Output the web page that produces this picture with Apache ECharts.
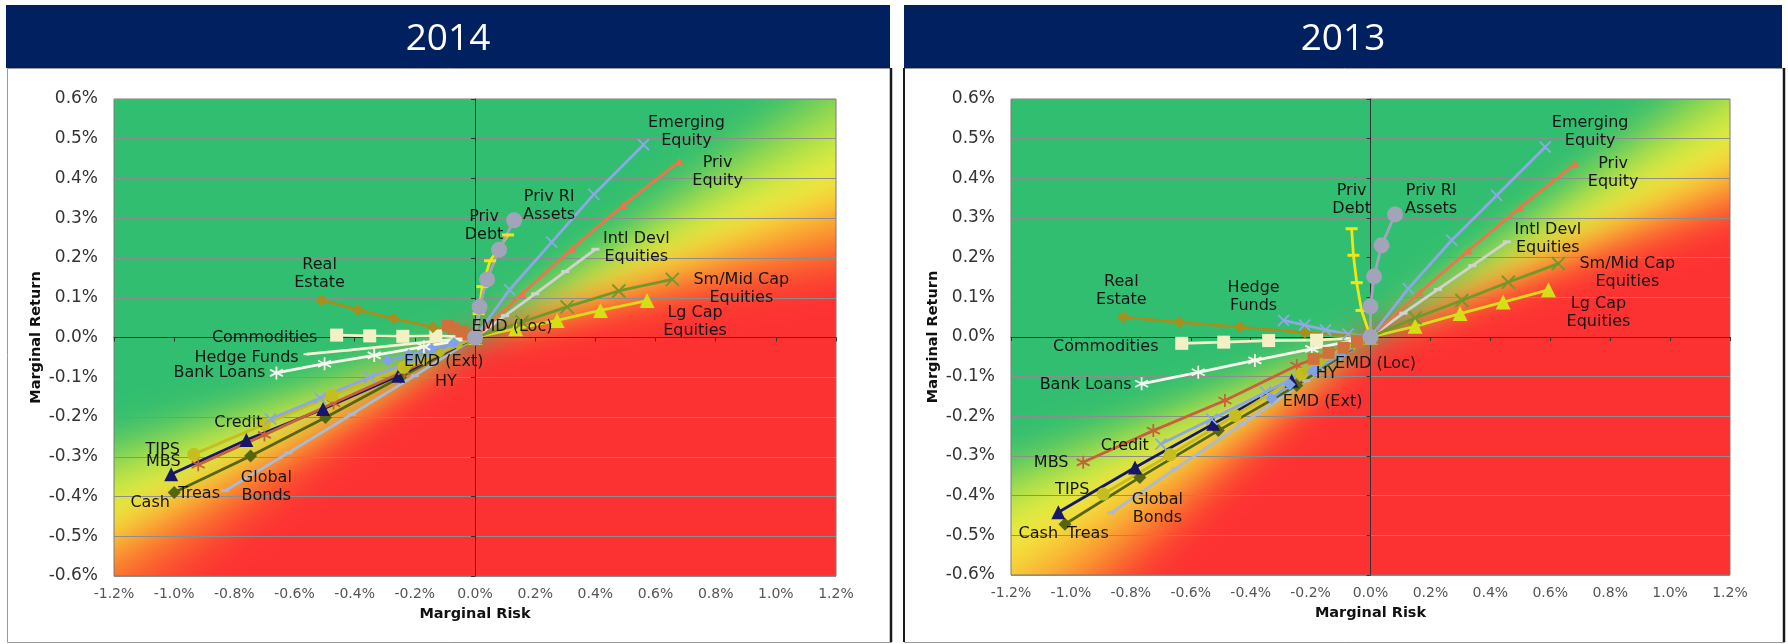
<!DOCTYPE html>
<html>
<head>
<meta charset="utf-8">
<script src="https://cdn.jsdelivr.net/npm/echarts@6/dist/echarts.min.js"></script>
<style>
  html, body { margin: 0; padding: 0; background: #ffffff; }
  #main { width: 1788px; height: 644px; }
</style>
</head>
<body>
<div id="main"></div>
<script>
// ---- axis ranges: [min, max, step] in percent ----
const riskRange = [-1.2, 1.2, 0.2];
const returnRange = [-0.6, 0.6, 0.1];
const panelYears = ['2014', '2013'];

// ---- 2014: [marginal risk %, marginal return %], from the end of each path back to the origin ----
const realEstate2014   = [[-0.51, 0.094], [-0.39, 0.070], [-0.27, 0.047], [-0.14, 0.026], [0, 0]];
const commodities2014  = [[-0.46, 0.006], [-0.35, 0.004], [-0.24, 0.003], [-0.13, 0.004], [0, 0]];
const hedgeFunds2014   = [[-0.56, -0.042], [-0.42, -0.032], [-0.28, -0.021], [-0.14, -0.010], [0, 0]];
const bankLoans2014    = [[-0.66, -0.089], [-0.50, -0.066], [-0.335, -0.045], [-0.17, -0.023], [0, 0]];
const emdExt2014       = [[-0.29, -0.058], [-0.22, -0.044], [-0.145, -0.029], [-0.07, -0.014], [0, 0]];
const emdLoc2014       = [[-0.09, 0.030], [-0.07, 0.023], [-0.045, 0.015], [-0.022, 0.007], [0, 0]];
const hy2014           = [[-0.23, -0.078], [-0.17, -0.058], [-0.115, -0.039], [-0.057, -0.019], [0, 0]];
const credit2014       = [[-0.68, -0.205], [-0.515, -0.152], [-0.35, -0.100], [-0.18, -0.052], [0, 0]];
const tips2014         = [[-0.935, -0.294], [-0.70, -0.218], [-0.475, -0.146], [-0.237, -0.075], [0, 0]];
const mbs2014          = [[-0.92, -0.320], [-0.70, -0.245], [-0.47, -0.165], [-0.235, -0.085], [0, 0]];
const cash2014         = [[-1.01, -0.344], [-0.76, -0.258], [-0.505, -0.180], [-0.255, -0.096], [0, 0]];
const treas2014        = [[-1.00, -0.390], [-0.746, -0.298], [-0.497, -0.201], [-0.248, -0.100], [0, 0]];
const globalBonds2014  = [[-0.83, -0.385], [-0.62, -0.290], [-0.41, -0.193], [-0.20, -0.096], [0, 0]];
const privDebt2014     = [[0.11, 0.258], [0.05, 0.193], [0.024, 0.128], [0.012, 0.060], [0, 0]];
const privRl2014       = [[0.13, 0.295], [0.08, 0.221], [0.04, 0.146], [0.015, 0.077], [0, 0]];
const emerging2014     = [[0.56, 0.485], [0.395, 0.360], [0.255, 0.240], [0.115, 0.120], [0, 0]];
const privEquity2014   = [[0.68, 0.443], [0.493, 0.333], [0.323, 0.224], [0.157, 0.110], [0, 0]];
const intlDevl2014     = [[0.40, 0.222], [0.30, 0.166], [0.20, 0.110], [0.10, 0.055], [0, 0]];
const smMidCap2014     = [[0.656, 0.146], [0.478, 0.117], [0.306, 0.077], [0.157, 0.039], [0, 0]];
const lgCap2014        = [[0.572, 0.093], [0.417, 0.068], [0.273, 0.043], [0.135, 0.022], [0, 0]];

// ---- 2013 ----
const realEstate2013   = [[-0.825, 0.050], [-0.636, 0.037], [-0.436, 0.025], [-0.219, 0.011], [0, 0]];
const commodities2013  = [[-0.63, -0.016], [-0.49, -0.013], [-0.34, -0.009], [-0.18, -0.008], [0, 0]];
const hedgeFunds2013   = [[-0.29, 0.042], [-0.22, 0.030], [-0.15, 0.018], [-0.075, 0.007], [0, 0]];
const bankLoans2013    = [[-0.764, -0.118], [-0.575, -0.089], [-0.386, -0.059], [-0.196, -0.030], [0, 0]];
const emdExt2013       = [[-0.33, -0.155], [-0.27, -0.120], [-0.19, -0.085], [-0.10, -0.045], [0, 0]];
const emdLoc2013       = [[-0.19, -0.055], [-0.14, -0.040], [-0.09, -0.027], [-0.045, -0.013], [0, 0]];
const hy2013           = [[-0.22, -0.085], [-0.165, -0.064], [-0.11, -0.042], [-0.055, -0.021], [0, 0]];
const credit2013       = [[-0.70, -0.270], [-0.53, -0.207], [-0.35, -0.139], [-0.175, -0.070], [0, 0]];
const tips2013         = [[-0.892, -0.396], [-0.669, -0.297], [-0.452, -0.198], [-0.23, -0.093], [0, 0]];
const mbs2013          = [[-0.959, -0.316], [-0.725, -0.236], [-0.486, -0.160], [-0.246, -0.072], [0, 0]];
const cash2013         = [[-1.042, -0.442], [-0.786, -0.329], [-0.525, -0.219], [-0.263, -0.110], [0, 0]];
const treas2013        = [[-1.02, -0.472], [-0.77, -0.354], [-0.508, -0.236], [-0.246, -0.122], [0, 0]];
const globalBonds2013  = [[-0.865, -0.443], [-0.65, -0.332], [-0.43, -0.220], [-0.215, -0.110], [0, 0]];
const privDebt2013     = [[-0.063, 0.273], [-0.057, 0.206], [-0.046, 0.137], [-0.030, 0.067], [0, 0]];
const privRl2013       = [[0.082, 0.309], [0.037, 0.231], [0.012, 0.153], [0.0, 0.077], [0, 0]];
const emerging2013     = [[0.583, 0.479], [0.421, 0.357], [0.271, 0.244], [0.126, 0.122], [0, 0]];
const privEquity2013   = [[0.683, 0.437], [0.499, 0.326], [0.327, 0.218], [0.165, 0.113], [0, 0]];
const intlDevl2013     = [[0.455, 0.240], [0.34, 0.180], [0.225, 0.120], [0.11, 0.060], [0, 0]];
const smMidCap2013     = [[0.627, 0.185], [0.46, 0.138], [0.305, 0.092], [0.149, 0.048], [0, 0]];
const lgCap2013        = [[0.594, 0.119], [0.443, 0.088], [0.299, 0.059], [0.149, 0.027], [0, 0]];

// asset class -> [2014 path, 2013 path]; drawing order follows this list
const assetClasses = [
  ['Global Bonds', globalBonds2014, globalBonds2013],
  ['Treas', treas2014, treas2013],
  ['Cash', cash2014, cash2013],
  ['MBS', mbs2014, mbs2013],
  ['TIPS', tips2014, tips2013],
  ['Credit', credit2014, credit2013],
  ['HY', hy2014, hy2013],
  ['EMD (Ext)', emdExt2014, emdExt2013],
  ['Bank Loans', bankLoans2014, bankLoans2013],
  ['Hedge Funds', hedgeFunds2014, hedgeFunds2013],
  ['Commodities', commodities2014, commodities2013],
  ['Real Estate', realEstate2014, realEstate2013],
  ['EMD (Loc)', emdLoc2014, emdLoc2013],
  ['Intl Devl Equities', intlDevl2014, intlDevl2013],
  ['Lg Cap Equities', lgCap2014, lgCap2013],
  ['Sm/Mid Cap Equities', smMidCap2014, smMidCap2013],
  ['Priv Equity', privEquity2014, privEquity2013],
  ['Emerging Equity', emerging2014, emerging2013],
  ['Priv Debt', privDebt2014, privDebt2013],
  ['Priv Rl Assets', privRl2014, privRl2013]
];

// ---- marker shapes ----
const ASTERISK = 'path://M5,0L5,10M0.7,2.5L9.3,7.5M9.3,2.5L0.7,7.5';
const XMARK = 'path://M0,0L10,10M10,0L0,10';

const assetStyle = {
  'Real Estate':         { color: '#A88E1C', symbol: 'diamond', size: 12 },
  'Commodities':         { color: '#F2F0C4', symbol: 'rect', size: 13 },
  'Hedge Funds':         { color: '#8EAAE4', symbol: XMARK, size: 11, stroke: true },
  'Bank Loans':          { color: '#F7F7EE', symbol: ASTERISK, size: 13, stroke: true },
  'EMD (Ext)':           { color: '#7FA3E6', symbol: 'diamond', size: 12 },
  'EMD (Loc)':           { color: '#D2703C', symbol: 'rect', size: 12 },
  'HY':                  { color: '#B9BB22', symbol: 'diamond', size: 10 },
  'Credit':              { color: '#8BA8E4', symbol: XMARK, size: 11, stroke: true },
  'TIPS':                { color: '#C6BE1E', symbol: 'circle', size: 13 },
  'MBS':                 { color: '#C8613A', symbol: ASTERISK, size: 13, stroke: true },
  'Cash':                { color: '#17176A', symbol: 'triangle', size: 14 },
  'Treas':               { color: '#56660E', symbol: 'diamond', size: 13 },
  'Global Bonds':        { color: '#A8BAD4', symbol: 'rect', size: [8, 3] },
  'Priv Debt':           { color: '#F0E614', symbol: 'rect', size: [12, 3] },
  'Priv Rl Assets':      { color: '#A3A3BA', symbol: 'circle', size: 16 },
  'Emerging Equity':     { color: '#8CA8E6', symbol: XMARK, size: 11, stroke: true },
  'Priv Equity':         { color: '#EF7449', symbol: 'triangle', size: 8 },
  'Intl Devl Equities':  { color: '#D2D2D2', symbol: 'rect', size: [8, 3] },
  'Sm/Mid Cap Equities': { color: '#6F9A2A', symbol: XMARK, size: 13, stroke: true },
  'Lg Cap Equities':     { color: '#D6DE18', symbol: 'triangle', size: 15 }
};
const styleByYear = [
  { 'Hedge Funds': { color: '#F1F2D6', symbol: 'rect', size: [6, 2], stroke: false } },
  {}
];

// ---- end-point label text and placement (offset from the end point, px) ----
const endLabels = [
  {
    'Emerging Equity': ['Emerging\nEquity', 43, -13],
    'Priv Equity': ['Priv\nEquity', 38, 10],
    'Priv Rl Assets': ['Priv Rl\nAssets', 35, -14],
    'Priv Debt': ['Priv\nDebt', -24, -9],
    'Intl Devl Equities': ['Intl Devl\nEquities', 41, -1],
    'Sm/Mid Cap Equities': ['Sm/Mid Cap\nEquities', 69, 9],
    'Lg Cap Equities': ['Lg Cap\nEquities', 48, 21],
    'EMD (Loc)': ['EMD (Loc)', 64, 1],
    'Real Estate': ['Real\nEstate', -2, -26],
    'Commodities': ['Commodities', -72, 3],
    'Hedge Funds': ['Hedge Funds', -60, 4],
    'Bank Loans': ['Bank Loans', -57, 0],
    'EMD (Ext)': ['EMD (Ext)', 56, 1],
    'HY': ['HY', 40, 13],
    'Credit': ['Credit', -32, 4],
    'TIPS': ['TIPS', -31, -5],
    'MBS': ['MBS', -35, -3],
    'Cash': ['Cash', -21, 29],
    'Treas': ['Treas', 25, 1],
    'Global Bonds': ['Global\nBonds', 41, -4]
  },
  {
    'Emerging Equity': ['Emerging\nEquity', 45, -15],
    'Priv Equity': ['Priv\nEquity', 38, 9],
    'Priv Rl Assets': ['Priv Rl\nAssets', 36, -15],
    'Priv Debt': ['Priv\nDebt', 0, -29],
    'Intl Devl Equities': ['Intl Devl\nEquities', 41, -3],
    'Sm/Mid Cap Equities': ['Sm/Mid Cap\nEquities', 69, 9],
    'Lg Cap Equities': ['Lg Cap\nEquities', 50, 23],
    'EMD (Loc)': ['EMD (Loc)', 62, 5],
    'Real Estate': ['Real\nEstate', -2, -26],
    'Hedge Funds': ['Hedge\nFunds', -30, -23],
    'Commodities': ['Commodities', -76, 3],
    'Bank Loans': ['Bank Loans', -56, 1],
    'HY': ['HY', 22, 3],
    'EMD (Ext)': ['EMD (Ext)', 51, 3],
    'Credit': ['Credit', -36, 2],
    'MBS': ['MBS', -32, 0],
    'TIPS': ['TIPS', -31, -4],
    'Global Bonds': ['Global\nBonds', 46, -4],
    'Cash': ['Cash', -20, 22],
    'Treas': ['Treas', 23, 10]
  }
];

// ---- panel layout ----
const gridBoxes = [
  { left: 114, top: 99, width: 722, height: 477 },
  { left: 1011, top: 99, width: 719, height: 476 }
];
const titleBands = [
  { x: 6, y: 5, w: 884, h: 63 },
  { x: 904, y: 5, w: 878, h: 63 }
];
const frames = [
  { x: 7, y: 68, w: 884, h: 574 },
  { x: 904, y: 68, w: 880, h: 574 }
];

// colour field behind each plot, by angle (degrees, counter-clockwise from +risk) around the origin
const G = [50, 190, 112], YG = [168, 222, 72], Y = [244, 242, 62], O = [250, 168, 50], OR = [250, 104, 46], R = [252, 50, 50];
const fieldStops = [
  [[-180, G], [-166, G], [-160, YG], [-154, Y], [-150, O], [-146, OR], [-139, R], [8, R], [13, OR], [18, O], [24, Y], [31, YG], [39, G], [180, G]],
  [[-180, G], [-163, G], [-157, YG], [-151, Y], [-143, O], [-138, OR], [-133, R], [17, R], [20, OR], [23, O], [28, Y], [34, YG], [40, G], [180, G]]
];

const FONT = 'DejaVu Sans';
const pct = v => (Math.abs(v) < 1e-9 ? 0 : v).toFixed(1) + '%';

const xAxes = [], yAxes = [], grids = [], series = [];
gridBoxes.forEach((box, p) => {
  grids.push(Object.assign({ show: true, borderColor: '#7a7a7a', borderWidth: 1, backgroundColor: 'transparent' }, box));
  const xBase = { gridIndex: p, type: 'value', min: riskRange[0], max: riskRange[1], interval: riskRange[2] };
  const yBase = { gridIndex: p, type: 'value', min: returnRange[0], max: returnRange[1], interval: returnRange[2] };
  xAxes.push(Object.assign({}, xBase, {
    position: 'bottom',
    axisLine: { show: false, onZero: false },
    axisTick: { show: false },
    splitLine: { show: false },
    axisLabel: { formatter: pct, fontFamily: FONT, fontSize: 14, color: '#555', margin: 11 },
    name: 'Marginal Risk', nameLocation: 'middle', nameGap: 31,
    nameTextStyle: { fontFamily: FONT, fontWeight: 'bold', fontSize: 14.5, color: '#111' }
  }));
  xAxes.push(Object.assign({}, xBase, {
    position: 'top',
    axisLine: { show: true, onZero: true, lineStyle: { color: '#333', width: 1 } },
    axisTick: { show: true, inside: true, length: 4, lineStyle: { color: '#333' } },
    axisLabel: { show: false },
    splitLine: { show: false }
  }));
  yAxes.push(Object.assign({}, yBase, {
    position: 'left',
    axisLine: { show: false, onZero: false },
    axisTick: { show: false },
    splitLine: { show: true, lineStyle: { color: '#8d8d8d', width: 1 } },
    axisLabel: { formatter: pct, fontFamily: FONT, fontSize: 17, color: '#333', margin: 16 },
    name: 'Marginal Return', nameLocation: 'middle', nameGap: 70, nameRotate: 90,
    nameTextStyle: { fontFamily: FONT, fontWeight: 'bold', fontSize: 14.5, color: '#111' }
  }));
  yAxes.push(Object.assign({}, yBase, {
    position: 'right',
    axisLine: { show: true, onZero: true, lineStyle: { color: '#333', width: 1 } },
    axisTick: { show: true, inside: true, length: 4, lineStyle: { color: '#333' } },
    axisLabel: { show: false },
    splitLine: { show: false }
  }));

  assetClasses.forEach(row => {
    const name = row[0];
    const path = row[1 + p];
    const st = Object.assign({}, assetStyle[name], styleByYear[p][name] || {});
    const lab = endLabels[p][name];
    const data = path.map((pt, i) => {
      if (i !== 0 || !lab) return pt;
      return {
        value: pt,
        label: {
          show: true, formatter: lab[0], position: 'inside', offset: [lab[1], lab[2]],
          fontFamily: FONT, fontSize: 16, lineHeight: 18, color: '#151515', align: 'center', verticalAlign: 'middle'
        }
      };
    });
    series.push({
      type: 'line', name: name + ' ' + panelYears[p],
      xAxisIndex: p * 2, yAxisIndex: p * 2,
      data: data,
      symbol: st.symbol, symbolSize: st.size, showAllSymbol: true,
      lineStyle: { color: st.color, width: 2.8 },
      itemStyle: st.stroke
        ? { color: st.color, borderColor: st.color, borderWidth: 1.8 }
        : { color: st.color, borderWidth: 0 },
      label: { show: false },
      emphasis: { disabled: true },
      z: 3
    });
  });
});

const chart = echarts.init(document.getElementById('main'), null, { renderer: 'canvas' });
chart.setOption({
  animation: false,
  backgroundColor: '#ffffff',
  grid: grids,
  xAxis: xAxes,
  yAxis: yAxes,
  series: series
});

function lerp(a, b, t) { return [0, 1, 2].map(k => a[k] + (b[k] - a[k]) * t); }
function colourAt(stops, ang) {
  for (let i = 1; i < stops.length; i++) {
    if (ang <= stops[i][0]) {
      const a = stops[i - 1], b = stops[i];
      const t = (ang - a[0]) / ((b[0] - a[0]) || 1);
      return lerp(a[1], b[1], Math.max(0, Math.min(1, t)));
    }
  }
  return stops[stops.length - 1][1];
}
// angular colour field around the plot origin, softened with a blur
function buildField(p) {
  const box = gridBoxes[p];
  const org = chart.convertToPixel({ gridIndex: p }, [0, 0]);
  const m = 70;
  const W = box.width + 2 * m, H = box.height + 2 * m;
  const src = document.createElement('canvas');
  src.width = W; src.height = H;
  const sctx = src.getContext('2d');
  const img = sctx.createImageData(W, H);
  const ox = org[0] - box.left + m, oy = org[1] - box.top + m;
  for (let y = 0; y < H; y++) {
    for (let x = 0; x < W; x++) {
      const ang = Math.atan2(oy - (y + 0.5), (x + 0.5) - ox) * 180 / Math.PI;
      const c = colourAt(fieldStops[p], ang);
      const k = (y * W + x) * 4;
      img.data[k] = c[0]; img.data[k + 1] = c[1]; img.data[k + 2] = c[2]; img.data[k + 3] = 255;
    }
  }
  sctx.putImageData(img, 0, 0);
  const out = document.createElement('canvas');
  out.width = box.width; out.height = box.height;
  const octx = out.getContext('2d');
  octx.filter = 'blur(17px)';
  octx.drawImage(src, -m, -m);
  return out;
}

const graphics = [];
gridBoxes.forEach((box, p) => {
  graphics.push({
    type: 'image', x: box.left, y: box.top, z: -10, silent: true,
    style: { image: buildField(p), width: box.width, height: box.height }
  });
});
titleBands.forEach((b, p) => {
  graphics.push({
    type: 'rect', z: -5, silent: true,
    shape: { x: b.x, y: b.y, width: b.w, height: b.h },
    style: { fill: '#002060' }
  });
  graphics.push({
    type: 'text', z: -4, silent: true, x: b.x + b.w / 2, y: b.y + b.h / 2 + 3,
    style: { text: panelYears[p], fill: '#ffffff', fontFamily: 'Open Sans', fontSize: 37, align: 'center', verticalAlign: 'middle' }
  });
});
frames.forEach(f => {
  graphics.push({
    type: 'rect', z: -6, silent: true,
    shape: { x: f.x + 0.5, y: f.y + 0.5, width: f.w, height: f.h },
    style: { fill: 'none', stroke: '#9a9a9a', lineWidth: 1 }
  });
  graphics.push({
    type: 'line', z: -6, silent: true,
    shape: { x1: f.x + f.w, y1: f.y, x2: f.x + f.w, y2: f.y + f.h },
    style: { stroke: '#1a1a1a', lineWidth: 2.5 }
  });
});
graphics.push({
  type: 'line', z: -6, silent: true,
  shape: { x1: frames[1].x, y1: frames[1].y, x2: frames[1].x, y2: frames[1].y + frames[1].h },
  style: { stroke: '#1a1a1a', lineWidth: 2 }
});
chart.setOption({ graphic: graphics });
</script>
</body>
</html>
